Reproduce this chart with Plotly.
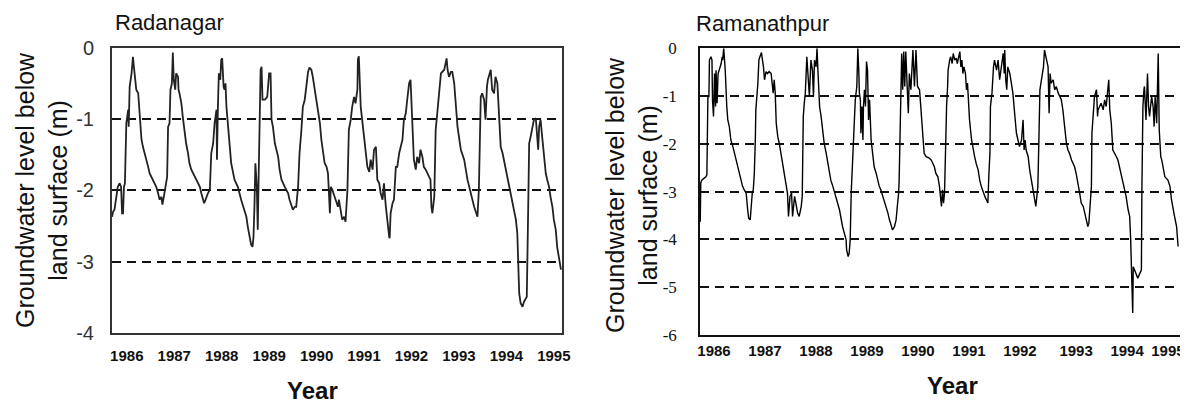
import plotly.graph_objects as go

# ---------------- Radanagar (left panel) ----------------
rad_year = [
    1985.69, 1985.71, 1985.74, 1985.78, 1985.81, 1985.85, 1985.88, 1985.90, 1985.92, 1985.94,
    1985.96, 1985.99, 1986.03, 1986.04, 1986.06, 1986.10, 1986.13, 1986.15, 1986.17, 1986.20,
    1986.24, 1986.27, 1986.31, 1986.34, 1986.38, 1986.41, 1986.45, 1986.48, 1986.52, 1986.59,
    1986.62, 1986.66, 1986.69, 1986.73, 1986.75, 1986.78, 1986.80, 1986.83, 1986.85, 1986.87,
    1986.90, 1986.92, 1986.95, 1986.97, 1986.99, 1987.02, 1987.04, 1987.08, 1987.09, 1987.11,
    1987.15, 1987.18, 1987.22, 1987.25, 1987.29, 1987.32, 1987.36, 1987.43, 1987.47, 1987.50,
    1987.54, 1987.57, 1987.61, 1987.63, 1987.66, 1987.68, 1987.71, 1987.75, 1987.78, 1987.82,
    1987.85, 1987.89, 1987.90, 1987.92, 1987.94, 1987.97, 1987.99, 1988.01, 1988.04, 1988.06,
    1988.08, 1988.10, 1988.13, 1988.17, 1988.20, 1988.27, 1988.34, 1988.41, 1988.48, 1988.52,
    1988.55, 1988.59, 1988.62, 1988.65, 1988.67, 1988.69, 1988.71, 1988.74, 1988.76, 1988.78,
    1988.80, 1988.82, 1988.84, 1988.86, 1988.91, 1988.96, 1989.00, 1989.03, 1989.05, 1989.08,
    1989.12, 1989.19, 1989.22, 1989.26, 1989.33, 1989.40, 1989.43, 1989.47, 1989.50, 1989.54,
    1989.57, 1989.61, 1989.64, 1989.68, 1989.71, 1989.75, 1989.78, 1989.82, 1989.85, 1989.89,
    1989.92, 1989.96, 1989.99, 1990.03, 1990.07, 1990.10, 1990.14, 1990.17, 1990.21, 1990.24,
    1990.25, 1990.28, 1990.30, 1990.33, 1990.38, 1990.45,
    1990.47, 1990.51, 1990.54, 1990.58, 1990.61, 1990.65, 1990.66, 1990.68, 1990.72, 1990.75,
    1990.79, 1990.82, 1990.86, 1990.87, 1990.89, 1990.92, 1990.93, 1990.96, 1991.00, 1991.03,
    1991.07, 1991.11, 1991.14, 1991.18, 1991.21, 1991.25, 1991.27, 1991.28, 1991.32, 1991.35,
    1991.39, 1991.42, 1991.46, 1991.49, 1991.53, 1991.54, 1991.56, 1991.60, 1991.63, 1991.67,
    1991.70, 1991.74, 1991.77, 1991.81, 1991.84, 1991.88, 1991.91, 1991.95, 1991.98, 1992.00,
    1992.02, 1992.05, 1992.09, 1992.12, 1992.16, 1992.19, 1992.23, 1992.26, 1992.30, 1992.33,
    1992.37, 1992.40, 1992.42, 1992.44, 1992.48, 1992.49, 1992.51, 1992.55, 1992.58, 1992.62,
    1992.69, 1992.72, 1992.74, 1992.76, 1992.79, 1992.83, 1992.86, 1992.90, 1992.93, 1992.97,
    1993.04, 1993.11, 1993.18, 1993.25, 1993.32, 1993.39, 1993.42, 1993.46, 1993.49, 1993.53,
    1993.56, 1993.59, 1993.61, 1993.67, 1993.70, 1993.74, 1993.77, 1993.81, 1993.85, 1993.88,
    1993.92, 1993.99, 1994.06, 1994.13, 1994.20, 1994.23, 1994.25, 1994.27, 1994.30, 1994.34,
    1994.37, 1994.43, 1994.46, 1994.48, 1994.51, 1994.55, 1994.58, 1994.62, 1994.65, 1994.67,
    1994.69, 1994.72, 1994.76, 1994.79, 1994.83, 1994.86, 1994.90, 1994.93, 1994.97, 1995.00,
    1995.04, 1995.07, 1995.11, 1995.15,
]
rad_level = [
    -2.37, -2.30, -2.27, -2.09, -1.95, -1.90, -1.95, -2.32, -2.32, -1.95,
    -1.90, -1.06, -0.87, -1.11, -0.55, -0.36, -0.13, -0.27, -0.45, -0.59,
    -0.64, -0.97, -1.29, -1.39, -1.48, -1.57, -1.67, -1.76, -1.81, -1.90,
    -1.95, -2.04, -2.13, -2.09, -2.20, -2.09, -1.99, -1.90, -1.81, -1.11,
    -1.06, -0.59, -0.50, -0.07, -0.45, -0.59, -0.36, -0.41, -0.59, -0.64,
    -0.78, -0.97, -1.20, -1.34, -1.48, -1.62, -1.71, -1.81, -1.85, -1.90,
    -1.95, -2.04, -2.13, -2.18, -2.13, -2.09, -2.04, -1.99, -1.48, -1.34,
    -1.06, -0.87, -1.57, -0.83, -0.36, -0.45, -0.17, -0.15, -0.55, -0.59,
    -0.50, -0.83, -1.11, -1.43, -1.62, -1.85, -1.95, -2.13, -2.27, -2.37,
    -2.51, -2.65, -2.76, -2.79, -2.65, -2.23, -1.62, -1.95, -2.55, -1.76,
    -0.83, -0.31, -0.27, -0.73, -0.73, -0.69, -0.36, -0.36, -1.01, -1.11,
    -1.34, -1.53, -1.71, -1.85, -1.95, -2.04, -2.13, -2.23, -2.27, -2.23,
    -2.23, -1.95, -1.48, -1.15, -0.83, -0.73, -0.55, -0.34, -0.28, -0.31,
    -0.41, -0.59, -0.73, -0.87, -1.06, -1.29, -1.48, -1.62, -1.67, -1.76,
    -1.90, -2.32, -1.95, -1.99, -2.09, -2.23,
    -2.13, -2.32, -2.41, -2.37, -2.44, -1.99, -1.57, -1.15, -1.01, -0.83,
    -0.69, -0.78, -0.59, -0.17, -0.12, -0.73, -0.83, -1.01, -1.25, -1.43,
    -1.67, -1.74, -1.57, -1.71, -1.43, -1.39, -1.76, -1.85, -1.90, -2.04,
    -2.13, -1.90, -2.23, -2.46, -2.65, -2.67, -2.32, -2.18, -2.13, -1.67,
    -1.67, -1.48, -1.39, -1.29, -1.01, -0.92, -0.73, -0.50, -0.45, -0.73,
    -1.11, -1.57, -1.71, -1.53, -1.62, -1.43, -1.53, -1.67, -1.71, -1.76,
    -1.81, -1.85, -2.23, -2.32, -2.09, -1.57, -1.15, -0.87, -0.64, -0.36,
    -0.31, -0.22, -0.15, -0.31, -0.41, -0.34, -0.34, -0.50, -0.83, -1.11,
    -1.43, -1.57, -1.85, -2.04, -2.23, -2.37, -1.99, -0.69, -0.64, -0.73,
    -1.01, -0.55, -0.45, -0.31, -0.59, -0.64, -0.41, -0.50, -1.06, -1.39,
    -1.48, -1.71, -1.90, -2.13, -2.41, -2.60, -3.16, -3.44, -3.58, -3.63,
    -3.56, -3.49, -2.23, -1.34, -1.25, -1.11, -1.01, -0.99, -1.29, -1.43,
    -1.11, -1.01, -1.29, -1.53, -1.76, -1.85, -1.95, -2.09, -2.23, -2.41,
    -2.55, -2.79, -2.93, -3.11,
]

# ---------------- Ramanathpur (right panel) ----------------
ram_year = [
    1985.73, 1985.74, 1985.76, 1985.81, 1985.84, 1985.86, 1985.88, 1985.90, 1985.91, 1985.94,
    1985.96, 1985.97, 1985.99, 1986.01, 1986.03, 1986.04, 1986.06, 1986.08, 1986.10, 1986.14,
    1986.16, 1986.17, 1986.19, 1986.21, 1986.22, 1986.25, 1986.27, 1986.30, 1986.33, 1986.37,
    1986.40, 1986.43, 1986.46, 1986.50, 1986.53, 1986.56, 1986.59, 1986.63, 1986.66, 1986.68,
    1986.71, 1986.73, 1986.75, 1986.77, 1986.79, 1986.81, 1986.82, 1986.86, 1986.88, 1986.90,
    1986.93, 1986.95, 1986.97, 1986.99, 1987.02, 1987.05, 1987.08, 1987.12, 1987.14, 1987.16,
    1987.18, 1987.20, 1987.22, 1987.25, 1987.28, 1987.31, 1987.35, 1987.38, 1987.41, 1987.44,
    1987.46, 1987.49, 1987.52, 1987.54, 1987.58, 1987.61, 1987.64, 1987.67, 1987.71, 1987.73,
    1987.74, 1987.75, 1987.77, 1987.79, 1987.82, 1987.84, 1987.87, 1987.90, 1987.93, 1987.95,
    1987.97, 1988.00, 1988.02, 1988.04, 1988.07, 1988.10, 1988.13, 1988.16, 1988.20, 1988.23,
    1988.26, 1988.29, 1988.33, 1988.39, 1988.46, 1988.52, 1988.56, 1988.59, 1988.60, 1988.63,
    1988.65, 1988.67, 1988.69, 1988.72, 1988.75, 1988.77, 1988.80, 1988.82, 1988.84, 1988.85,
    1988.87, 1988.88, 1988.90, 1988.92, 1988.93, 1988.95, 1988.97, 1988.99, 1989.01, 1989.03,
    1989.05, 1989.07, 1989.08, 1989.11, 1989.14, 1989.18, 1989.21, 1989.24, 1989.27, 1989.31,
    1989.34, 1989.37, 1989.41, 1989.44, 1989.47, 1989.50, 1989.54, 1989.57, 1989.60, 1989.62,
    1989.63, 1989.67, 1989.68, 1989.70, 1989.72, 1989.74, 1989.76, 1989.79, 1989.81, 1989.83,
    1989.86, 1989.90, 1989.93, 1989.96, 1989.99, 1990.03, 1990.06, 1990.09, 1990.12, 1990.16,
    1990.22, 1990.26, 1990.29, 1990.32, 1990.35,
    1990.39, 1990.42, 1990.44, 1990.46, 1990.48, 1990.50, 1990.52, 1990.54, 1990.56, 1990.58,
    1990.59, 1990.62, 1990.64, 1990.67, 1990.69, 1990.72, 1990.75, 1990.77, 1990.80, 1990.82,
    1990.84, 1990.86, 1990.88, 1990.90, 1990.93, 1990.95, 1990.97, 1990.98, 1991.01, 1991.05,
    1991.08, 1991.11, 1991.14, 1991.18, 1991.21, 1991.24, 1991.31, 1991.34, 1991.37, 1991.39,
    1991.41, 1991.42, 1991.45, 1991.48, 1991.50, 1991.54, 1991.57, 1991.60, 1991.63, 1991.67,
    1991.69, 1991.70, 1991.72, 1991.74, 1991.76, 1991.80, 1991.83, 1991.86, 1991.90, 1991.93,
    1991.96, 1991.99, 1992.03, 1992.06, 1992.08, 1992.10, 1992.12, 1992.16, 1992.19, 1992.22,
    1992.25, 1992.29, 1992.31, 1992.33, 1992.35, 1992.37, 1992.39, 1992.42, 1992.44, 1992.46,
    1992.48, 1992.52, 1992.55, 1992.57, 1992.59, 1992.61, 1992.65, 1992.68, 1992.71, 1992.75,
    1992.78, 1992.81, 1992.84, 1992.88, 1992.91, 1992.94, 1992.97, 1993.01, 1993.04, 1993.07,
    1993.10, 1993.14, 1993.17, 1993.20, 1993.24, 1993.27, 1993.30, 1993.33, 1993.35, 1993.37,
    1993.40, 1993.41, 1993.44, 1993.46, 1993.50, 1993.52, 1993.53, 1993.56, 1993.59, 1993.63,
    1993.66, 1993.69, 1993.71, 1993.74, 1993.76, 1993.79, 1993.82, 1993.86, 1993.89, 1993.92,
    1993.95, 1993.99, 1994.02, 1994.05, 1994.08, 1994.12, 1994.15, 1994.17, 1994.18, 1994.20,
    1994.21, 1994.22, 1994.25, 1994.28, 1994.31, 1994.35, 1994.38, 1994.39, 1994.41, 1994.43,
    1994.44, 1994.47, 1994.50, 1994.52, 1994.54, 1994.58, 1994.61, 1994.63, 1994.65, 1994.68,
    1994.71, 1994.73, 1994.74, 1994.76, 1994.78, 1994.81, 1994.84, 1994.90, 1994.94, 1994.97,
    1995.00, 1995.03, 1995.07, 1995.09, 1995.10,
]
ram_level = [
    -3.63, -2.82, -2.76, -2.72, -2.69, -2.65, -1.01, -1.01, -0.25, -0.18,
    -0.25, -1.08, -1.43, -0.53, -1.22, -0.46, -1.15, -0.53, -0.46, -0.32,
    -0.18, -0.25, 0.00, -0.25, -0.46, -1.22, -1.50, -1.64, -1.92, -2.06,
    -2.20, -2.27, -2.41, -2.62, -2.76, -2.89, -2.96, -3.03, -3.38, -3.56,
    -3.59, -3.31, -3.03, -2.96, -2.62, -1.92, -1.29, -0.73, -0.25, -0.18,
    -0.09, -0.25, -0.39, -0.66, -0.49, -0.53, -0.49, -0.53, -0.73, -0.94,
    -0.66, -0.94, -1.57, -1.85, -1.99, -2.20, -2.41, -2.62, -2.82, -3.03,
    -3.52, -3.10, -3.03, -3.52, -3.10, -3.31, -3.45, -3.52, -3.31, -3.10,
    -2.27, -1.43, -1.15, -0.94, -0.18, -0.53, -1.01, -0.25, -0.46, -1.01,
    -0.25, -0.39, 0.00, -0.53, -1.22, -1.43, -1.78, -1.99, -2.20, -2.41,
    -2.55, -2.76, -2.89, -3.10, -3.38, -3.73, -3.87, -4.01, -4.22, -4.36,
    -4.29, -4.01, -3.03, -2.27, -1.57, -1.08, -0.80, 0.00, -0.53, -0.94,
    -1.08, -1.78, -1.22, -1.92, -1.22, -0.87, -1.22, -0.28, -0.46, -1.50,
    -1.08, -1.78, -1.92, -2.20, -2.48, -2.62, -2.76, -2.89, -2.96, -3.10,
    -3.17, -3.31, -3.45, -3.59, -3.73, -3.80, -3.73, -3.59, -3.24, -3.03,
    -2.76, -1.01, -0.11, -0.87, -0.07, -0.80, -0.07, -0.87, -1.36, -0.53,
    -0.87, -0.04, -0.80, -0.04, -0.80, -0.87, -1.29, -1.64, -2.20, -2.27,
    -2.30, -2.34, -2.41, -2.48, -2.62,
    -2.69, -2.89, -3.17, -3.31, -2.96, -3.24, -3.03, -1.92, -1.22, -0.80,
    -0.46, -0.25, -0.18, -0.32, -0.11, -0.25, -0.21, -0.32, -0.18, -0.07,
    -0.39, -0.25, -0.53, -0.39, -0.53, -0.87, -0.73, -0.94, -1.50, -1.92,
    -2.13, -2.27, -2.41, -2.55, -2.76, -2.89, -3.10, -3.17, -3.24, -2.62,
    -2.20, -1.22, -0.94, -0.39, -0.25, -0.46, -0.25, -0.66, -0.39, -0.11,
    -0.53, -0.04, -0.66, -0.87, -0.39, -0.53, -0.73, -0.94, -1.43, -1.78,
    -1.92, -2.06, -1.92, -1.50, -2.13, -1.92, -2.13, -2.27, -2.55, -2.76,
    -2.96, -3.17, -3.31, -3.10, -2.89, -1.92, -0.87, -0.66, -0.53, -0.39,
    -0.04, -0.25, -0.39, -1.36, -0.53, -0.73, -0.66, -0.87, -0.80, -0.94,
    -1.01, -1.08, -1.29, -1.71, -1.99, -2.13, -2.20, -2.34, -2.41, -2.48,
    -2.62, -2.82, -3.03, -3.24, -3.31, -3.45, -3.59, -3.73, -3.66, -3.31,
    -2.89, -1.78, -1.22, -1.01, -0.87, -1.43, -1.29, -1.22, -1.15, -1.29,
    -1.08, -1.22, -0.94, -0.66, -1.29, -1.57, -2.13, -2.20, -2.27, -2.34,
    -2.48, -2.62, -2.82, -2.96, -3.10, -3.38, -3.52, -4.01, -4.57, -4.98,
    -5.54, -4.57, -4.64, -4.71, -4.81, -4.71, -4.64, -2.96, -1.22, -0.87,
    -0.80, -1.50, -0.53, -1.22, -1.43, -1.01, -1.22, -1.64, -1.01, -1.57,
    -0.11, -1.71, -1.92, -2.27, -2.34, -2.48, -2.69, -2.76, -2.89, -3.17,
    -3.31, -3.52, -3.73, -4.01, -4.15,
]

year_labels = ["1986", "1987", "1988", "1989", "1990", "1991", "1992", "1993", "1994", "1995"]
rad_tick_pos = [1986, 1987, 1988, 1989, 1990, 1991, 1992, 1993, 1994, 1995]
ram_tick_pos = [1986, 1987, 1988, 1989, 1990, 1991, 1992, 1993.1, 1994.1, 1994.9]
rad_y_ticks = [0, -1, -2, -3, -4]
ram_y_ticks = [0, -1, -2, -3, -4, -5, -6]

assert len(rad_year) == len(rad_level), (len(rad_year), len(rad_level))
assert len(ram_year) == len(ram_level), (len(ram_year), len(ram_level))

# The page body adds an 8px offset; the figure fills the rest of the window.
OFF = 8
W, H = 1188 - OFF, 403 - OFF
def px(x): return (x - OFF) / W
def py(y): return 1 - (y - OFF) / H

SANS = "Liberation Sans, Arial, sans-serif"
SERIF = "Liberation Serif, Times New Roman, serif"

fig = go.Figure()
fig.add_trace(go.Scatter(x=rad_year, y=rad_level, mode="lines",
                         line=dict(color="#222", width=1.8), xaxis="x", yaxis="y",
                         showlegend=False, hoverinfo="skip"))
fig.add_trace(go.Scatter(x=ram_year, y=ram_level, mode="lines",
                         line=dict(color="#000", width=1.4), xaxis="x2", yaxis="y2",
                         showlegend=False, hoverinfo="skip"))

common_x = dict(showgrid=False, zeroline=False, showline=True, mirror=True, ticks="",
                tickangle=0, automargin=False,
                tickfont=dict(family=SANS, size=15, color="#111", weight="bold"))
common_y = dict(showgrid=True, gridcolor="#111", griddash="9px,6px", gridwidth=1.8,
                zeroline=False, showline=True, mirror=True, ticks="", automargin=False)

fig.update_layout(
    width=W, height=H, margin=dict(l=0, r=0, t=0, b=0, autoexpand=False),
    paper_bgcolor="white", plot_bgcolor="white", showlegend=False,
    xaxis=dict(domain=[px(112), px(562)], range=[1985.688, 1995.172], anchor="y",
               tickvals=rad_tick_pos, ticktext=year_labels, linecolor="#333", linewidth=2,
               ticklabelstandoff=8, **common_x),
    yaxis=dict(domain=[py(333.2), py(47.6)], range=[-4, 0], anchor="x",
               tickvals=rad_y_ticks, ticktext=[str(v) for v in rad_y_ticks],
               tickfont=dict(family=SANS, size=20, color="#333"),
               linecolor="#333", linewidth=2, ticklabelstandoff=12, **common_y),
    xaxis2=dict(domain=[px(700), px(1180)], range=[1985.725, 1995.137], anchor="y2",
                tickvals=ram_tick_pos, ticktext=year_labels, linecolor="#111", linewidth=1.6,
                ticklabelstandoff=1, **common_x),
    yaxis2=dict(domain=[py(335), py(48.2)], range=[-6, 0], anchor="x2",
                tickvals=ram_y_ticks, ticktext=[str(v) for v in ram_y_ticks],
                tickfont=dict(family=SERIF, size=17, color="#111"),
                linecolor="#111", linewidth=1.6, ticklabelstandoff=18, **common_y),
)

ann = [
    dict(text="Radanagar", x=px(113), y=py(22.7), xanchor="left", yanchor="middle",
         font=dict(family=SANS, size=22, color="#111")),
    dict(text="Ramanathpur", x=px(694), y=py(24), xanchor="left", yanchor="middle",
         font=dict(family=SANS, size=22, color="#111")),
    dict(text="Groundwater level below<br>land surface (m)", x=px(41), y=py(190),
         xanchor="center", yanchor="middle", textangle=-90,
         font=dict(family=SANS, size=25, color="#111")),
    dict(text="Groundwater level below<br>land surface (m)", x=px(631), y=py(195),
         xanchor="center", yanchor="middle", textangle=-90,
         font=dict(family=SANS, size=25, color="#111")),
    dict(text="<b>Year</b>", x=px(312), y=py(390), xanchor="center", yanchor="middle",
         font=dict(family=SANS, size=24, color="#111")),
    dict(text="<b>Year</b>", x=px(952), y=py(385), xanchor="center", yanchor="middle",
         font=dict(family=SANS, size=24, color="#111")),
]
for a in ann:
    fig.add_annotation(xref="paper", yref="paper", showarrow=False, **a)

fig.write_html("out.html")
